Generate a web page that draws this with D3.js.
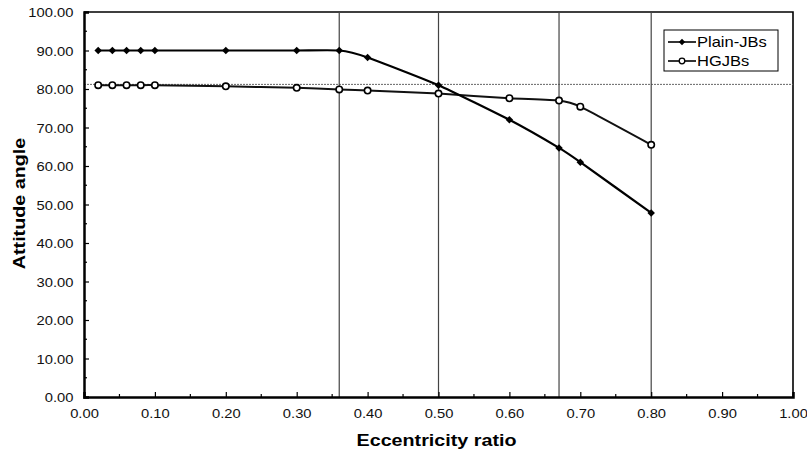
<!DOCTYPE html>
<html>
<head>
<meta charset="utf-8">
<script src="https://cdn.jsdelivr.net/npm/d3@7"></script>
<style>
  body { margin: 0; background: #fff; }
  text { font-family: "Liberation Sans", Arial, sans-serif; }
</style>
</head>
<body>
<svg id="chart" width="807" height="450"></svg>
<script>
// eccentricity values where points were measured
const eccentricity = [0.02, 0.04, 0.06, 0.08, 0.10, 0.20, 0.30, 0.36, 0.40, 0.50, 0.60, 0.67, 0.70, 0.80];
const plainJBs = [90.0, 90.0, 90.0, 90.0, 90.0, 90.0, 90.0, 90.0, 88.2, 81.0, 72.0, 64.7, 61.0, 47.8];
const hgJBs = [81.0, 81.0, 81.0, 81.0, 81.0, 80.7, 80.3, 79.9, 79.6, 78.8, 77.6, 77.0, 75.4, 65.5];
const seriesNames = ['Plain-JBs', 'HGJBs'];
const markerLines = [0.36, 0.50, 0.67, 0.80];
const refLevel = 81.2;
const xTicks = d3.range(0, 1.0001, 0.1);
const yTicks = d3.range(0, 100.001, 10);

const margin = {top: 12, right: 14, bottom: 53, left: 84};
const width = 807 - margin.left - margin.right;
const height = 450 - margin.top - margin.bottom;
const stretch = 1.18; // the original text is a bit wider than Liberation Sans

const svg = d3.select('#chart');
const chart = svg.append('g')
  .attr('transform', `translate(${margin.left}, ${margin.top})`);

const x = d3.scaleLinear().domain([0, 1]).range([0, width]);
const y = d3.scaleLinear().domain([0, 100]).range([height, 0]);

// frame top/right
chart.append('path')
  .attr('d', `M0,0H${width}V${height}`)
  .attr('fill', 'none')
  .attr('stroke', '#000')
  .attr('stroke-width', 1.6);

// reference lines
chart.append('line')
  .attr('x1', 0).attr('x2', width)
  .attr('y1', y(refLevel)).attr('y2', y(refLevel))
  .attr('stroke', '#666').attr('stroke-width', 1)
  .attr('stroke-dasharray', '2,1');

chart.selectAll('.vline')
  .data(markerLines)
  .enter().append('line')
  .attr('class', 'vline')
  .attr('x1', d => x(d)).attr('x2', d => x(d))
  .attr('y1', 0).attr('y2', height)
  .attr('stroke', '#444').attr('stroke-width', 1.2);

// axes, ticks point inward
const xAxis = d3.axisBottom(x).tickValues(xTicks).tickSize(-5).tickPadding(10)
  .tickFormat(d3.format('.2f'));
const yAxis = d3.axisLeft(y).tickValues(yTicks).tickSize(-5).tickPadding(9)
  .tickFormat(d3.format('.2f'));

const axisX = chart.append('g')
  .attr('transform', `translate(0, ${height})`)
  .call(xAxis);
const axisY = chart.append('g').call(yAxis);

[axisX, axisY].forEach(a => {
  a.select('.domain').attr('stroke-width', 2.5);
  a.selectAll('.tick line').attr('stroke-width', 1.2);
  a.selectAll('.tick text').attr('font-size', 12.5).attr('fill', '#111')
    .attr('font-family', '"Liberation Sans", Arial, sans-serif')
    .attr('transform', `scale(${stretch}, 1)`);
});
axisX.selectAll('.tick text').attr('dy', '0.9em');
axisY.selectAll('.tick text').attr('dy', '0.36em');

// minor ticks
chart.append('g').selectAll('line')
  .data(d3.range(0.05, 1, 0.1))
  .enter().append('line')
  .attr('x1', d => x(d)).attr('x2', d => x(d))
  .attr('y1', height).attr('y2', height - 3)
  .attr('stroke', '#000').attr('stroke-width', 1.2);
chart.append('g').selectAll('line')
  .data(d3.range(5, 100, 10))
  .enter().append('line')
  .attr('x1', 0).attr('x2', 3)
  .attr('y1', d => y(d)).attr('y2', d => y(d))
  .attr('stroke', '#000').attr('stroke-width', 1.2);

// series (smoothed like the original)
const line = d3.line()
  .x(d => x(d[0]))
  .y(d => y(d[1]))
  .curve(d3.curveCardinal.tension(0.5));

const plainData = eccentricity.map((e, i) => [e, plainJBs[i]]);
const hgData = eccentricity.map((e, i) => [e, hgJBs[i]]);

chart.append('path').datum(hgData)
  .attr('d', line).attr('fill', 'none')
  .attr('stroke', '#111').attr('stroke-width', 2);
chart.append('path').datum(plainData)
  .attr('d', line).attr('fill', 'none')
  .attr('stroke', '#000').attr('stroke-width', 2.2);

const diamond = d3.symbol().type(d3.symbolSquare).size(28);
chart.selectAll('.pmark')
  .data(plainData)
  .enter().append('path')
  .attr('class', 'pmark')
  .attr('transform', d => `translate(${x(d[0])}, ${y(d[1])}) rotate(45)`)
  .attr('d', diamond)
  .attr('fill', '#000');

chart.selectAll('.hmark')
  .data(hgData)
  .enter().append('circle')
  .attr('class', 'hmark')
  .attr('cx', d => x(d[0]))
  .attr('cy', d => y(d[1]))
  .attr('r', 3.2)
  .attr('fill', '#fff')
  .attr('stroke', '#000')
  .attr('stroke-width', 1.6);

// legend
const legend = chart.append('g')
  .attr('transform', `translate(${664 - margin.left}, ${30 - margin.top})`);
legend.append('rect')
  .attr('width', 114).attr('height', 41)
  .attr('fill', '#fff').attr('stroke', '#000').attr('stroke-width', 1);
seriesNames.forEach((name, i) => {
  const ly = 12 + i * 19;
  legend.append('line')
    .attr('x1', 4).attr('x2', 32).attr('y1', ly).attr('y2', ly)
    .attr('stroke', '#000').attr('stroke-width', 1.6);
  if (i === 0) {
    legend.append('path')
      .attr('transform', `translate(18, ${ly}) rotate(45)`)
      .attr('d', d3.symbol().type(d3.symbolSquare).size(20))
      .attr('fill', '#000');
  } else {
    legend.append('circle')
      .attr('cx', 18).attr('cy', ly).attr('r', 2.8)
      .attr('fill', '#fff').attr('stroke', '#000').attr('stroke-width', 1.3);
  }
  legend.append('text')
    .attr('transform', `translate(33, ${ly + 5}) scale(${stretch}, 1)`)
    .attr('font-size', 14)
    .text(name);
});

// axis titles
svg.append('text')
  .attr('transform', `translate(${margin.left + x(0.5) - 2}, 446) scale(1.16, 1)`)
  .attr('text-anchor', 'middle')
  .attr('font-size', 17)
  .attr('font-weight', 'bold')
  .text('Eccentricity ratio');

svg.append('text')
  .attr('transform', `translate(25, ${margin.top + height / 2 - 1}) rotate(-90) scale(1.16, 1)`)
  .attr('text-anchor', 'middle')
  .attr('font-size', 17)
  .attr('font-weight', 'bold')
  .text('Attitude angle');
</script>
</body>
</html>
